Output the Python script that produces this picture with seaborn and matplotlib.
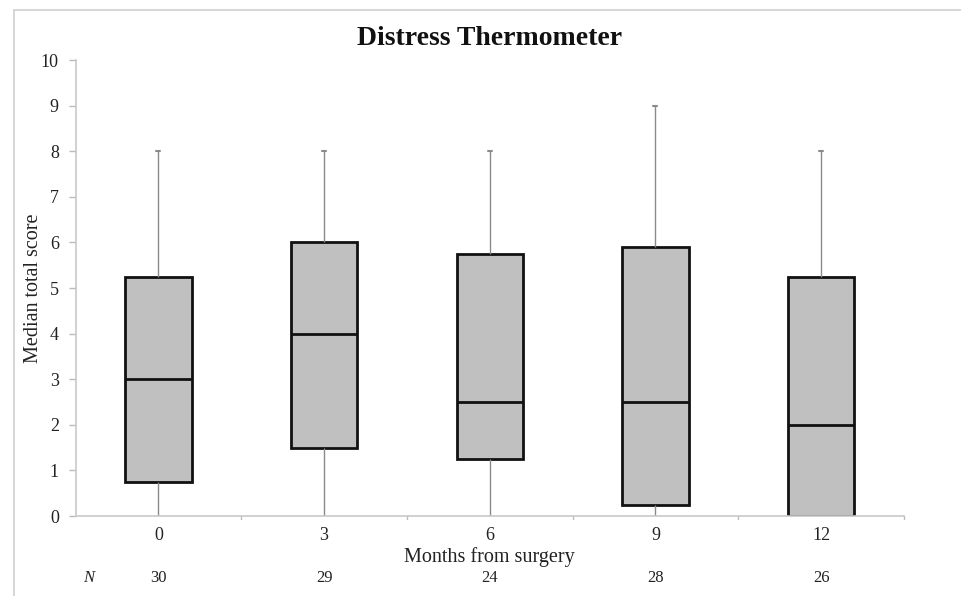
import numpy as np
import pandas as pd
import matplotlib
matplotlib.use("Agg")
import matplotlib.pyplot as plt
import seaborn as sns
from matplotlib.lines import Line2D

# Data (five-number summaries per time point)
months = ["0", "3", "6", "9", "12"]
mins = [0, 0, 0, 0, 0]
q1s = [0.75, 1.5, 1.25, 0.25, 0.0]
medians = [3.0, 4.0, 2.5, 2.5, 2.0]
q3s = [5.25, 6.0, 5.75, 5.9, 5.25]
maxs = [8, 8, 8, 9, 8]
n_counts = [30, 29, 24, 28, 26]
y_ticks = list(range(0, 11))

rows = []
for m, a, b, c, d, e in zip(months, mins, q1s, medians, q3s, maxs):
    for v in (a, b, c, d, e):
        rows.append({"month": m, "score": v})
df = pd.DataFrame(rows)

sns.set_style("white")
plt.rcParams["font.family"] = ["Liberation Serif", "DejaVu Serif"]

fig = plt.figure(figsize=(9.61, 5.96), dpi=100)
ax = fig.add_axes([0.0786, 0.1342, 0.8621, 0.7651])

sns.boxplot(data=df, x="month", y="score", order=months, whis=np.inf,
            width=0.4, color="#c0c0c0", ax=ax,
            boxprops=dict(facecolor="#c0c0c0", edgecolor="#111111", linewidth=2),
            medianprops=dict(color="#111111", linewidth=2),
            whiskerprops=dict(color="#8a8a8a", linewidth=1),
            capprops=dict(color="#8a8a8a", linewidth=1.5),
            showfliers=False)

# shrink caps to tiny ticks like the reference, hide lower caps
for ln in ax.lines:
    xd = np.asarray(ln.get_xdata(), dtype=float)
    yd = np.asarray(ln.get_ydata(), dtype=float)
    if len(xd) == 2 and len(yd) == 2 and yd[0] == yd[1] and ln.get_color() == "#8a8a8a":
        cx = xd.mean()
        if yd[0] <= 0.001:
            ln.set_visible(False)
        else:
            ln.set_xdata([cx - 0.012, cx + 0.012])

ax.set_xlim(-0.5, 4.5)
ax.set_ylim(0, 10)
ax.set_yticks(y_ticks)
ax.set_yticklabels([str(t) for t in y_ticks])

ax.set_xticks(range(len(months)))
ax.set_xticklabels(months)
ax.tick_params(axis="x", length=0, pad=8, labelsize=13, colors="#222222")
ax.tick_params(axis="y", length=5, width=1, color="#bbbbbb", pad=7,
               labelsize=13, labelcolor="#222222", left=True)
# category boundary ticks on x axis
for b in np.arange(0.5, 4.6, 1.0):
    ax.plot([b, b], [0, -0.07], color="#bbbbbb", lw=1, clip_on=False)

for s in ["top", "right"]:
    ax.spines[s].set_visible(False)
for s in ["left", "bottom"]:
    ax.spines[s].set_color("#c8c8c8")
    ax.spines[s].set_linewidth(1.2)

ax.set_xlabel("Months from surgery", fontsize=14.5, color="#222222", labelpad=2)
ax.set_ylabel("Median total score", fontsize=14.5, color="#222222", labelpad=-1.5)
ax.set_title("Distress Thermometer", fontsize=20, fontweight="bold",
             color="#111111", pad=11)

# N row
ax.text(-0.42, -0.136, "N", transform=ax.get_xaxis_transform(), fontsize=12,
        style="italic", ha="center", va="center", color="#222222")
for i, n in enumerate(n_counts):
    ax.text(i, -0.136, str(n), transform=ax.get_xaxis_transform(), fontsize=12,
            ha="center", va="center", color="#222222")

# outer frame (left and top edges)
fig.add_artist(Line2D([14 / 961, 14 / 961], [0, 1 - 10 / 596],
                      transform=fig.transFigure, color="#d0d0d0", lw=1.2))
fig.add_artist(Line2D([14 / 961, 1], [1 - 10 / 596, 1 - 10 / 596],
                      transform=fig.transFigure, color="#d0d0d0", lw=1.2))

fig.savefig("out.png", dpi=100)
